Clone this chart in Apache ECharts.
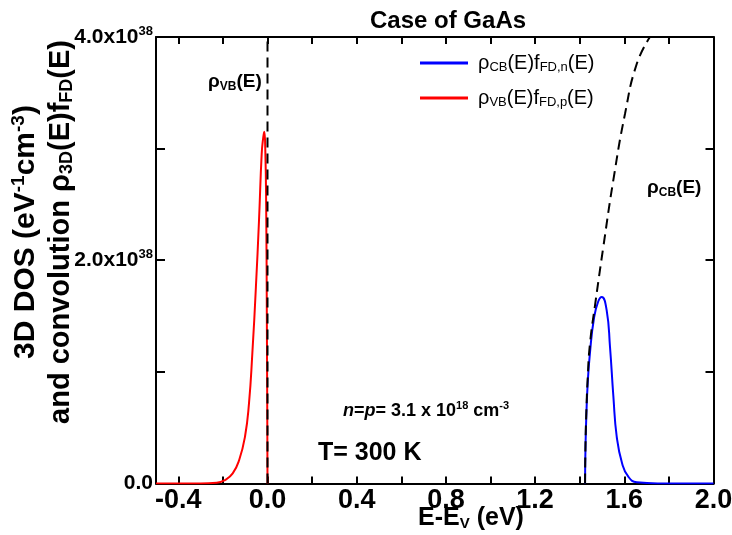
<!DOCTYPE html>
<html><head><meta charset="utf-8">
<script src="https://cdn.jsdelivr.net/npm/echarts@6/dist/echarts.min.js"></script>
<style>html,body{margin:0;padding:0;background:#fff}#c{width:732px;height:535px}</style>
</head><body><div id="c"></div>
<script>
const FONT = "'Liberation Sans', Arial, Helvetica, sans-serif";

// axis ticks / labels
const xTickValues = [-0.4, -0.2, 0.0, 0.2, 0.4, 0.6, 0.8, 1.0, 1.2, 1.4, 1.6, 1.8, 2.0];
const xLabelValues = [-0.4, 0.0, 0.4, 0.8, 1.2, 1.6, 2.0];
const yTickValues = [0, 1, 2, 3, 4];          // units of 1e38
const yLabelValues = [0, 2, 4];

// rho_VB(E) f_FD,p(E)  (red)
const vbConvE = [-0.5, -0.3, -0.228, -0.191, -0.156, -0.127, -0.101, -0.083, -0.068, -0.052, -0.038, -0.026, -0.019, -0.0144, -0.010, -0.006, -0.003, -0.001, 0.0];
const vbConvV = [0, 0, 0.005, 0.03, 0.09, 0.21, 0.418, 0.717, 1.165, 1.76, 2.36, 2.955, 3.10, 3.15, 3.0, 2.5, 1.5, 0.6, 0];

// rho_CB(E) f_FD,n(E)  (blue)
const cbConvE = [1.424, 1.426, 1.430, 1.436, 1.446, 1.464, 1.483, 1.499, 1.521, 1.536, 1.551, 1.566, 1.590, 1.618, 1.656, 1.75, 2.0];
const cbConvV = [0, 0.33, 0.62, 0.9, 1.17, 1.48, 1.63, 1.67, 1.55, 1.22, 0.78, 0.42, 0.18, 0.06, 0.01, 0, 0];

// rho_CB(E) (black dashed)
const cbDosE = [1.424, 1.426, 1.430, 1.436, 1.446, 1.469, 1.506, 1.551, 1.603, 1.656, 1.715];
const cbDosV = [0, 0.35, 0.65, 0.95, 1.25, 1.6, 2.12, 2.72, 3.31, 3.76, 4.0];

// rho_VB(E) (black dashed)
const vbDosE = [0.0, 0.0];
const vbDosV = [0, 4.0];

const pairs = (xs, ys) => xs.map((x, i) => [x, ys[i]]);

const chart = echarts.init(document.getElementById('c'), null, {renderer: 'canvas'});

const axisLineStyle = {color: '#000', width: 2};
const legendRich = {
  g: {fontSize: 20, fontFamily: FONT, color: '#000'},
  g0: {fontSize: 20, fontFamily: FONT, color: '#000', padding: [0, 0, 0, 5]},
  s: {fontSize: 13, fontFamily: FONT, color: '#000', padding: [9, 0, 0, 0]}
};
const legendText = {
  'CB': '{g0|ρ}{s|CB}{g|(E)f}{s|FD,n}{g|(E)}',
  'VB': '{g0|ρ}{s|VB}{g|(E)f}{s|FD,p}{g|(E)}'
};

const option = {
  animation: false,
  backgroundColor: '#fff',
  title: {
    text: 'Case of GaAs', left: 370, top: 9, padding: 0,
    textStyle: {fontFamily: FONT, fontSize: 24, fontWeight: 'bold', color: '#000'}
  },
  legend: {
    data: ['CB', 'VB'], orient: 'vertical', left: 420, top: 53, padding: 0,
    itemWidth: 48, itemHeight: 3, itemGap: 14, icon: 'rect',
    formatter: name => legendText[name],
    textStyle: {rich: legendRich, fontSize: 20, fontFamily: FONT}
  },
  grid: {left: 156, right: 18.5, top: 37, bottom: 51.6, containLabel: false, outerBoundsMode: 'none'},
  xAxis: [
    {
      type: 'value', min: -0.5, max: 2.0, position: 'bottom',
      axisLine: {show: true, onZero: false, lineStyle: axisLineStyle},
      axisTick: {show: true, inside: true, length: 7, customValues: xTickValues, lineStyle: axisLineStyle},
      axisLabel: {
        show: true, customValues: xLabelValues, margin: 4,
        formatter: v => v.toFixed(1),
        fontFamily: FONT, fontSize: 27, fontWeight: 'bold', color: '#000',
        showMinLabel: true, showMaxLabel: true, hideOverlap: false
      },
      splitLine: {show: false}
    },
    {
      type: 'value', min: -0.5, max: 2.0, position: 'top',
      axisLine: {show: true, onZero: false, lineStyle: axisLineStyle},
      axisTick: {show: true, inside: true, length: 7, customValues: xTickValues, lineStyle: axisLineStyle},
      axisLabel: {show: false},
      splitLine: {show: false}
    }
  ],
  yAxis: [
    {
      type: 'value', min: 0, max: 4, position: 'left',
      axisLine: {show: true, onZero: false, lineStyle: axisLineStyle},
      axisTick: {show: true, inside: true, length: 9, customValues: yTickValues, lineStyle: axisLineStyle},
      axisLabel: {
        show: true, customValues: yLabelValues, margin: 3,
        formatter: v => v === 0 ? '{m|0.0}' : '{m|' + v.toFixed(1) + 'x10}{sup|38}',
        rich: {
          m: {fontFamily: FONT, fontSize: 21, fontWeight: 'bold', color: '#000'},
          sup: {fontFamily: FONT, fontSize: 13, fontWeight: 'bold', color: '#000', padding: [0, 0, 11, 0]}
        },
        showMinLabel: true, showMaxLabel: true, hideOverlap: false
      },
      splitLine: {show: false}
    },
    {
      type: 'value', min: 0, max: 4, position: 'right',
      axisLine: {show: true, onZero: false, lineStyle: axisLineStyle},
      axisTick: {show: true, inside: true, length: 8, customValues: yTickValues, lineStyle: axisLineStyle},
      axisLabel: {show: false},
      splitLine: {show: false}
    }
  ],
  series: [
    {
      name: 'CB', type: 'line', data: pairs(cbConvE, cbConvV), xAxisIndex: 0, yAxisIndex: 0,
      showSymbol: false, smooth: 0.5, color: '#0000ff',
      lineStyle: {color: '#0000ff', width: 2}, z: 2
    },
    {
      name: 'VB', type: 'line', data: pairs(vbConvE, vbConvV), xAxisIndex: 0, yAxisIndex: 0,
      showSymbol: false, smooth: 0.5, color: '#ff0000',
      lineStyle: {color: '#ff0000', width: 2}, z: 2
    },
    {
      name: 'rhoCB', type: 'line', data: pairs(cbDosE, cbDosV), xAxisIndex: 0, yAxisIndex: 0,
      showSymbol: false, smooth: 0.5, color: '#000',
      lineStyle: {color: '#000', width: 2, type: [10, 6]}, z: 3
    },
    {
      name: 'rhoVB', type: 'line', data: pairs(vbDosE, vbDosV), xAxisIndex: 0, yAxisIndex: 0,
      showSymbol: false, color: '#000',
      lineStyle: {color: '#000', width: 2, type: [10, 6]}, z: 3
    }
  ],
  graphic: [
    { // y axis title line 1
      type: 'text', x: 26, y: 232, rotation: Math.PI / 2,
      style: {
        text: '{b|3D DOS (eV}{sup|-1}{b|cm}{sup|-3}{b|)}',
        align: 'center', verticalAlign: 'middle',
        rich: {
          b: {fontFamily: FONT, fontSize: 30, fontWeight: 'bold', fill: '#000'},
          sup: {fontFamily: FONT, fontSize: 19, fontWeight: 'bold', fill: '#000', padding: [0, 0, 15, 0]}
        }
      }
    },
    { // y axis title line 2
      type: 'text', x: 61, y: 232, rotation: Math.PI / 2,
      style: {
        text: '{b|and convolution ρ}{sub|3D}{b|(E)f}{sub|FD}{b|(E)}',
        align: 'center', verticalAlign: 'middle',
        rich: {
          b: {fontFamily: FONT, fontSize: 29, fontWeight: 'bold', fill: '#000'},
          sub: {fontFamily: FONT, fontSize: 18, fontWeight: 'bold', fill: '#000', padding: [13, 0, 0, 0]}
        }
      }
    },
    { // x axis title
      type: 'text', x: 471, y: 518,
      style: {
        text: '{b|E-E}{sub|V}{b| (eV)}',
        align: 'center', verticalAlign: 'middle',
        rich: {
          b: {fontFamily: FONT, fontSize: 25, fontWeight: 'bold', fill: '#000'},
          sub: {fontFamily: FONT, fontSize: 15, fontWeight: 'bold', fill: '#000', padding: [12, 0, 0, 0]}
        }
      }
    },
    { // rho_VB label
      type: 'text', x: 208, y: 82,
      style: {
        text: '{b|ρ}{sub|VB}{b|(E)}', align: 'left', verticalAlign: 'middle',
        rich: {
          b: {fontFamily: FONT, fontSize: 19, fontWeight: 'bold', fill: '#000'},
          sub: {fontFamily: FONT, fontSize: 12, fontWeight: 'bold', fill: '#000', padding: [9, 0, 0, 0]}
        }
      }
    },
    { // rho_CB label
      type: 'text', x: 647, y: 188,
      style: {
        text: '{b|ρ}{sub|CB}{b|(E)}', align: 'left', verticalAlign: 'middle',
        rich: {
          b: {fontFamily: FONT, fontSize: 19, fontWeight: 'bold', fill: '#000'},
          sub: {fontFamily: FONT, fontSize: 12, fontWeight: 'bold', fill: '#000', padding: [9, 0, 0, 0]}
        }
      }
    },
    { // carrier density
      type: 'text', x: 343, y: 411,
      style: {
        text: '{i|n}{b|=}{i|p}{b|= 3.1 x 10}{sup|18}{b| cm}{sup|-3}', align: 'left', verticalAlign: 'middle',
        rich: {
          b: {fontFamily: FONT, fontSize: 18, fontWeight: 'bold', fill: '#000'},
          i: {fontFamily: FONT, fontSize: 18, fontWeight: 'bold', fontStyle: 'italic', fill: '#000'},
          sup: {fontFamily: FONT, fontSize: 11, fontWeight: 'bold', fill: '#000', padding: [0, 0, 11, 0]}
        }
      }
    },
    { // temperature
      type: 'text', x: 318, y: 453.5,
      style: {
        text: 'T= 300 K', align: 'left', verticalAlign: 'middle',
        fontFamily: FONT, fontSize: 25, fontWeight: 'bold', fill: '#000'
      }
    }
  ]
};
chart.setOption(option);
</script>
</body></html>
